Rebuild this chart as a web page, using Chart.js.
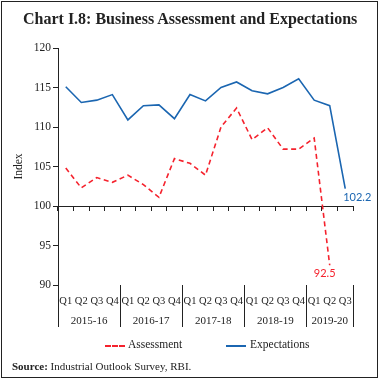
<!DOCTYPE html>
<html>
<head>
<meta charset="utf-8">
<script src="https://cdn.jsdelivr.net/npm/chart.js@4.4.1/dist/chart.umd.min.js"></script>
<style>
  html, body { margin: 0; padding: 0; background: #fff; }
  #wrap { position: relative; width: 380px; height: 380px; overflow: hidden; background: #fff; }
  #frame { position: absolute; left: 1px; top: 1px; width: 375px; height: 375px; border: 1.5px solid #222; box-sizing: content-box; pointer-events: none; }
  #title { position: absolute; left: 23px; top: 10px; font-family: "Liberation Serif", serif; font-weight: bold; font-size: 16px; color: #222; white-space: nowrap; }
  #source { position: absolute; left: 12px; top: 360px; font-family: "Liberation Serif", serif; font-size: 11px; color: #222; white-space: nowrap; }
  #source b { font-weight: bold; }
  .leg { position: absolute; top: 338px; font-family: "Liberation Serif", serif; font-size: 11.5px; color: #222; white-space: nowrap; }
  .legline { position: absolute; top: 345px; height: 0; }
  canvas { position: absolute; left: 0; top: 0; }
</style>
</head>
<body>
<div id="wrap">
  <canvas id="c" width="380" height="380"></canvas>
  <div id="title">Chart I.8: Business Assessment and Expectations</div>
  <div class="legline" style="left:105px;width:20px;border-top:2px dashed #f5222d;"></div>
  <div class="leg" style="left:128px;">Assessment</div>
  <div class="legline" style="left:226px;width:20px;border-top:2px solid #1b66b1;"></div>
  <div class="leg" style="left:250px;">Expectations</div>
  <div id="source"><b>Source:</b> Industrial Outlook Survey, RBI.</div>
  <div id="frame"></div>
</div>
<script>
const quarters = ['Q1','Q2','Q3','Q4','Q1','Q2','Q3','Q4','Q1','Q2','Q3','Q4','Q1','Q2','Q3','Q4','Q1','Q2','Q3'];
const years = ['2015-16','2016-17','2017-18','2018-19','2019-20'];
const yearCenters = [1.5, 5.5, 9.5, 13.5, 17];
const yearBounds = [-0.5, 3.5, 7.5, 11.5, 15.5, 18.5];
const assessment = [104.8, 102.3, 103.6, 103.0, 103.9, 102.7, 101.1, 106.0, 105.4, 103.9, 110.0, 112.4, 108.4, 109.9, 107.2, 107.2, 108.6, 92.5];
const expectations = [115.1, 113.1, 113.4, 114.1, 110.9, 112.7, 112.8, 111.05, 114.1, 113.3, 115.0, 115.7, 114.6, 114.2, 115.0, 116.1, 113.4, 112.7, 102.2];
const yTicks = [90, 95, 100, 105, 110, 115, 120];

const RED = '#f5222d';
const BLUE = '#1b66b1';
const INK = '#222';
const SERIF = '"Liberation Serif", serif';

const endLabels = {
  id: 'endLabels',
  afterDatasetsDraw(chart) {
    const ctx = chart.ctx;
    ctx.save();
    ctx.font = '11px Lato, sans-serif';
    ctx.textAlign = 'center';
    ctx.textBaseline = 'middle';
    const defs = [
      { ds: 0, dx: -5, dy: 8, color: RED },
      { ds: 1, dx: 12, dy: 9, color: BLUE }
    ];
    defs.forEach(d => {
      const meta = chart.getDatasetMeta(d.ds);
      const pts = meta.data;
      const p = pts[pts.length - 1];
      const v = chart.data.datasets[d.ds].data[pts.length - 1];
      ctx.fillStyle = d.color;
      ctx.fillText(v.toFixed(1), p.x + d.dx, p.y + d.dy);
    });
    ctx.restore();
  }
};

new Chart(document.getElementById('c'), {
  type: 'line',
  data: {
    labels: quarters,
    datasets: [
      { label: 'Assessment', data: assessment, borderColor: RED, backgroundColor: RED, borderWidth: 1.6, borderDash: [5, 3.5], pointRadius: 0, tension: 0, xAxisID: 'x', yAxisID: 'y' },
      { label: 'Expectations', data: expectations, borderColor: BLUE, backgroundColor: BLUE, borderWidth: 1.6, pointRadius: 0, tension: 0, xAxisID: 'x', yAxisID: 'y' }
    ]
  },
  options: {
    responsive: false,
    animation: false,
    devicePixelRatio: 1,
    layout: { padding: { top: 48, right: 27, bottom: 49, left: 0 } },
    plugins: { legend: { display: false }, tooltip: { enabled: false }, title: { display: false } },
    scales: {
      y: {
        position: 'left', min: 90, max: 120,
        afterBuildTicks: s => { s.ticks = yTicks.map(v => ({ value: v })); },
        afterFit: s => { s.width = 58; },
        ticks: { font: { family: SERIF, size: 11.5 }, color: INK, padding: 2 },
        grid: { drawOnChartArea: false, drawTicks: true, tickLength: 5, color: INK, lineWidth: 1 },
        border: { display: true, color: INK, width: 1 },
        title: { display: true, text: 'Index', font: { family: SERIF, size: 11.5 }, color: INK, padding: { top: 12, bottom: 0 } }
      },
      x: {
        type: 'category', position: { y: 100 }, offset: true,
        ticks: { display: false },
        grid: { drawOnChartArea: false, offset: true, drawTicks: true, tickLength: 4, color: INK, lineWidth: 1 },
        border: { display: true, color: INK, width: 1 }
      },
      xs: {
        type: 'linear', position: 'bottom', min: -0.5, max: 18.5,
        afterBuildTicks: s => { s.ticks = yearBounds.map(v => ({ value: v })); },
        afterFit: s => { s.height = 0; },
        ticks: { display: false },
        grid: { display: true, drawOnChartArea: false, drawTicks: true, tickLength: 42, color: INK, lineWidth: 1 },
        border: { display: false }
      },
      xq: {
        type: 'category', position: 'bottom', offset: true,
        afterFit: s => { s.height = 24; },
        ticks: { font: { family: SERIF, size: 10.5 }, color: INK, padding: 10, maxRotation: 0, autoSkip: false },
        grid: { display: false, drawTicks: false },
        border: { display: false }
      },
      xy: {
        type: 'linear', position: 'bottom', min: -0.5, max: 18.5,
        afterBuildTicks: s => { s.ticks = yearCenters.map(v => ({ value: v })); },
        afterFit: s => { s.height = 22; },
        ticks: { font: { family: SERIF, size: 11 }, color: INK, padding: 6, maxRotation: 0, autoSkip: false,
                 callback: (v, i) => years[i] },
        grid: { display: false, drawTicks: false },
        border: { display: false }
      }
    }
  },
  plugins: [endLabels]
});
</script>
</body>
</html>
